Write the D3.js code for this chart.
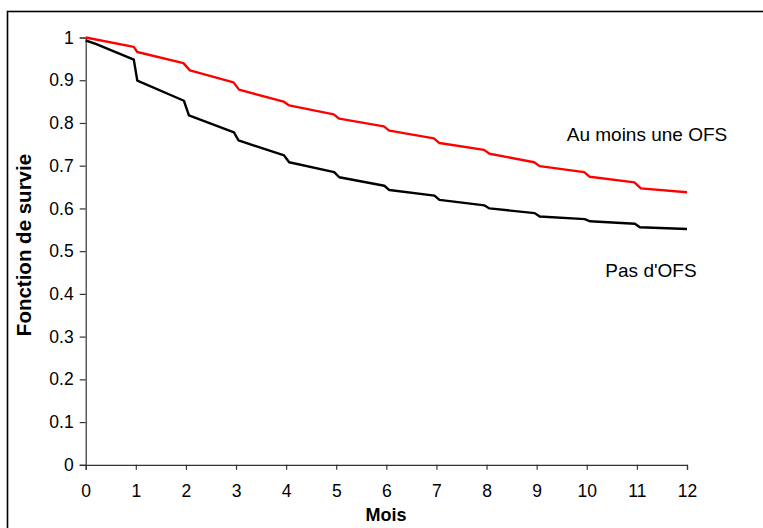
<!DOCTYPE html>
<html>
<head>
<meta charset="utf-8">
<script src="https://cdn.jsdelivr.net/npm/d3@7"></script>
<style>
  html, body { margin: 0; padding: 0; background: #fff; }
  svg { display: block; }
  text { font-family: "Liberation Sans", Arial, sans-serif; fill: #000; }
</style>
</head>
<body>
<svg id="chart" width="763" height="528"></svg>
<script>
// Survival curves (months, survival probability)
const timesOFS = [0, 0.96, 1.03, 1.95, 2.08, 2.95, 3.06, 3.95, 4.06, 4.95, 5.06, 5.95, 6.06, 6.95, 7.06, 7.95, 8.06, 8.95, 9.06, 9.95, 10.06, 10.95, 11.08, 12];
const survOFS  = [1.0, 0.978, 0.966, 0.940, 0.923, 0.895, 0.878, 0.850, 0.841, 0.820, 0.810, 0.792, 0.782, 0.764, 0.753, 0.737, 0.728, 0.708, 0.699, 0.685, 0.674, 0.661, 0.647, 0.638];

const timesNoOFS = [0, 0.2, 0.96, 1.03, 1.96, 2.06, 2.96, 3.05, 3.96, 4.06, 4.96, 5.06, 5.96, 6.06, 6.96, 7.06, 7.96, 8.06, 8.96, 9.06, 9.96, 10.06, 10.96, 11.06, 12];
const survNoOFS  = [0.993, 0.985, 0.948, 0.899, 0.852, 0.818, 0.778, 0.759, 0.724, 0.708, 0.685, 0.673, 0.653, 0.643, 0.630, 0.620, 0.607, 0.600, 0.589, 0.581, 0.575, 0.570, 0.564, 0.556, 0.552];

const seriesNames = ["Au moins une OFS", "Pas d'OFS"];
const xTicks = d3.range(0, 13, 1);
const yTicks = d3.range(0, 11, 1).map(d => d / 10);

const svg = d3.select("#chart");

// outer frame
svg.append("rect")
  .attr("x", 7.5).attr("y", 11.5)
  .attr("width", 900).attr("height", 700)
  .attr("fill", "none").attr("stroke", "#000").attr("stroke-width", 1.6);

const x = d3.scaleLinear().domain([0, 12]).range([85.7, 687]);
const y = d3.scaleLinear().domain([0, 1]).range([464.8, 37.5]);

// axes
const xAxis = svg.append("g")
  .attr("transform", `translate(0,${y(0)})`)
  .call(d3.axisBottom(x).tickValues(xTicks).tickFormat(d3.format("d")).tickSizeOuter(0).tickSize(5).tickPadding(14.5));
const yAxis = svg.append("g")
  .attr("transform", `translate(${x(0)},0)`)
  .call(d3.axisLeft(y).tickValues(yTicks).tickFormat(d => d === 0 ? "0" : d === 1 ? "1" : d3.format(".1f")(d)).tickSizeOuter(0).tickSize(6).tickPadding(6));

[xAxis, yAxis].forEach(g => {
  g.select(".domain").attr("stroke", "#333").attr("stroke-width", 1.2);
  g.selectAll(".tick line").attr("stroke", "#333").attr("stroke-width", 1.2);
  g.selectAll(".tick text").style("font-size", "17.5px").attr("fill", "#000");
});

// curves
const line = d3.line().x(d => x(d[0])).y(d => y(d[1]));
const dataOFS = timesOFS.map((t, i) => [t, survOFS[i]]);
const dataNoOFS = timesNoOFS.map((t, i) => [t, survNoOFS[i]]);

svg.append("path").datum(dataNoOFS)
  .attr("d", line).attr("fill", "none").attr("stroke", "#000").attr("stroke-width", 2.4)
  .attr("stroke-linejoin", "round");
svg.append("path").datum(dataOFS)
  .attr("d", line).attr("fill", "none").attr("stroke", "#ff0000").attr("stroke-width", 2.4)
  .attr("stroke-linejoin", "round");

// series labels
svg.append("text").attr("x", 647).attr("y", 140.5).attr("text-anchor", "middle")
  .style("font-size", "19px").text(seriesNames[0]);
svg.append("text").attr("x", 651).attr("y", 276.5).attr("text-anchor", "middle")
  .style("font-size", "19px").text(seriesNames[1]);

// axis titles
svg.append("text").attr("x", 386).attr("y", 521).attr("text-anchor", "middle")
  .style("font-size", "18px").style("font-weight", "bold").text("Mois");
svg.append("text")
  .attr("transform", `translate(31,245) rotate(-90)`)
  .attr("text-anchor", "middle")
  .style("font-size", "20.5px").style("font-weight", "bold").text("Fonction de survie");
</script>
</body>
</html>
